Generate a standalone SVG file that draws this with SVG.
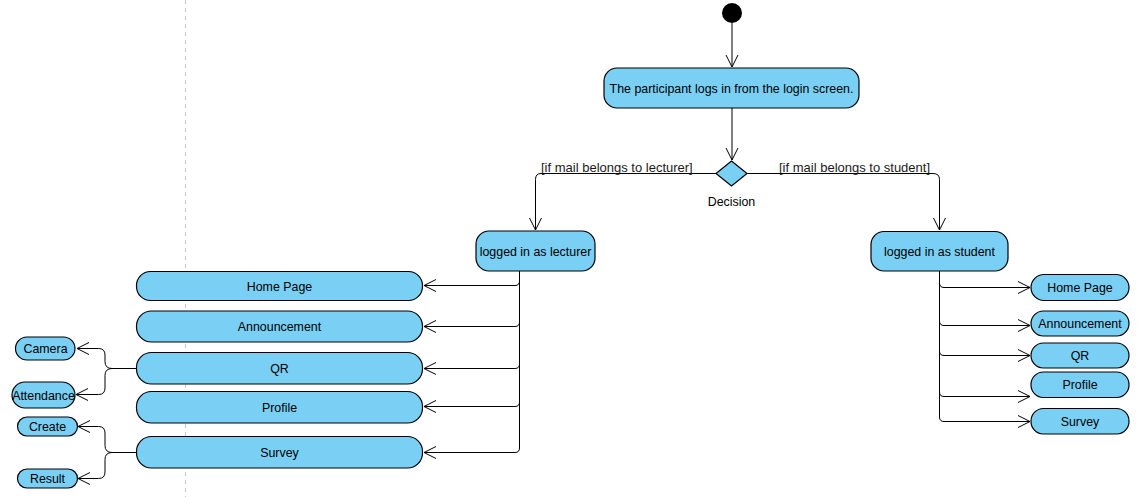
<svg xmlns="http://www.w3.org/2000/svg" width="1139" height="497" viewBox="0 0 1139 497">
<style>
.n{fill:#7ACFF5;stroke:#000;stroke-width:1.2}
.t{font-family:"Liberation Sans",Arial,sans-serif;font-size:12.4px;fill:#000;text-anchor:middle}
.g{font-family:"Liberation Sans",Arial,sans-serif;font-size:13px;fill:#1a1a1a}
.c{fill:none;stroke:#000;stroke-width:1}
</style>
<defs>
<marker id="a" markerUnits="userSpaceOnUse" markerWidth="14" markerHeight="14" refX="12" refY="6" orient="auto" viewBox="0 0 14 12">
<path d="M0,0 L12,6 L0,12" fill="none" stroke="#000" stroke-width="1"/>
</marker>
</defs>
<rect width="1139" height="497" fill="#fff"/>
<line x1="185.5" y1="0" x2="185.5" y2="497" stroke="#c8c8c8" stroke-dasharray="4,4"/>
<g id="connectors">
<path class="c" d="M732,23 V67" marker-end="url(#a)"/>
<path class="c" d="M732,108 V160" marker-end="url(#a)"/>
<path class="c" d="M716,173.5 H541 Q535.5,173.5 535.5,179.5 V230" marker-end="url(#a)"/>
<path class="c" d="M747,173.5 H933 Q939.5,173.5 939.5,179.5 V230" marker-end="url(#a)"/>
<path class="c" d="M519.5,271 V448"/>
<path class="c" d="M519.5,281 Q519.5,285.5 515,285.5 H424" marker-end="url(#a)"/>
<path class="c" d="M519.5,322 Q519.5,326.5 515,326.5 H424" marker-end="url(#a)"/>
<path class="c" d="M519.5,364 Q519.5,368.5 515,368.5 H424" marker-end="url(#a)"/>
<path class="c" d="M519.5,402 Q519.5,406.5 515,406.5 H424" marker-end="url(#a)"/>
<path class="c" d="M519.5,448 Q519.5,452.5 515,452.5 H424" marker-end="url(#a)"/>
<path class="c" d="M939.5,271 V417"/>
<path class="c" d="M939.5,283 Q939.5,287.5 944,287.5 H1030" marker-end="url(#a)"/>
<path class="c" d="M939.5,321 Q939.5,325.5 944,325.5 H1030" marker-end="url(#a)"/>
<path class="c" d="M939.5,351 Q939.5,355.5 944,355.5 H1030" marker-end="url(#a)"/>
<path class="c" d="M939.5,392 Q939.5,396.5 944,396.5 H1030" marker-end="url(#a)"/>
<path class="c" d="M939.5,417 Q939.5,421.5 944,421.5 H1030" marker-end="url(#a)"/>
<path class="c" d="M136,368.5 H112 Q105,368.5 105,361.5 V355 Q105,348.5 98.5,348.5 H77" marker-end="url(#a)"/>
<path class="c" d="M112,368.5 Q105,368.5 105,375.5 V388 Q105,394.5 98.5,394.5 H76" marker-end="url(#a)"/>
<path class="c" d="M136,452.5 H112 Q105,452.5 105,445.5 V433 Q105,426.5 98.5,426.5 H78" marker-end="url(#a)"/>
<path class="c" d="M112,452.5 Q105,452.5 105,459.5 V472 Q105,478.5 98.5,478.5 H78" marker-end="url(#a)"/>
<text class="g" x="541" y="171.5">[if mail belongs to lecturer]</text>
<text class="g" x="779" y="171.5">[if mail belongs to student]</text>
</g>
<g id="start"><circle cx="732" cy="13" r="10" fill="#000"/></g>
<g id="login"><rect class="n" x="604" y="68" width="255" height="40" rx="13"/><text class="t" x="731.5" y="92.5">The participant logs in from the login screen.</text></g>
<g id="decision"><polygon class="n" points="731.5,161 747,173.5 731.5,186 716,173.5"/><text class="t" x="731.5" y="206">Decision</text></g>
<g id="lecturer"><rect class="n" x="476" y="231" width="119" height="40" rx="13"/><text class="t" x="535.5" y="255.5">logged in as lecturer</text></g>
<g id="student"><rect class="n" x="871" y="231.5" width="137" height="39.5" rx="13"/><text class="t" x="939.5" y="255.5">logged in as student</text></g>
<g id="l-home"><rect class="n" x="136.5" y="271.5" width="286" height="29" rx="14"/><text class="t" x="279.5" y="290.5">Home Page</text></g>
<g id="l-ann"><rect class="n" x="136.5" y="311" width="286" height="31" rx="15"/><text class="t" x="279.5" y="330.5">Announcement</text></g>
<g id="l-qr"><rect class="n" x="136.5" y="352.5" width="286" height="31.5" rx="15"/><text class="t" x="279.5" y="372.5">QR</text></g>
<g id="l-profile"><rect class="n" x="136.5" y="391.5" width="286" height="31.5" rx="15"/><text class="t" x="279.5" y="411.5">Profile</text></g>
<g id="l-survey"><rect class="n" x="136.5" y="436.5" width="286" height="31.5" rx="15"/><text class="t" x="279.5" y="456.5">Survey</text></g>
<g id="camera"><rect class="n" x="15.5" y="337" width="59.5" height="23" rx="11.5"/><text class="t" x="45.5" y="352.5">Camera</text></g>
<g id="attendance"><rect class="n" x="12" y="382" width="63" height="26" rx="13"/><text class="t" x="43.5" y="399.5">Attendance</text></g>
<g id="create"><rect class="n" x="17.5" y="417" width="60" height="19" rx="9.5"/><text class="t" x="47.5" y="430.5">Create</text></g>
<g id="result"><rect class="n" x="17.5" y="469" width="60" height="19" rx="9.5"/><text class="t" x="47.5" y="482.5">Result</text></g>
<g id="s-home"><rect class="n" x="1031" y="274.5" width="98" height="26" rx="13"/><text class="t" x="1080" y="291.5">Home Page</text></g>
<g id="s-ann"><rect class="n" x="1031" y="311" width="98" height="25" rx="12.5"/><text class="t" x="1080" y="327.5">Announcement</text></g>
<g id="s-qr"><rect class="n" x="1031" y="343" width="98" height="25" rx="12.5"/><text class="t" x="1080" y="359.5">QR</text></g>
<g id="s-profile"><rect class="n" x="1031" y="372" width="98" height="25.5" rx="12.5"/><text class="t" x="1080" y="388.5">Profile</text></g>
<g id="s-survey"><rect class="n" x="1031" y="408.5" width="98" height="25.5" rx="12.5"/><text class="t" x="1080" y="425.5">Survey</text></g>
</svg>
